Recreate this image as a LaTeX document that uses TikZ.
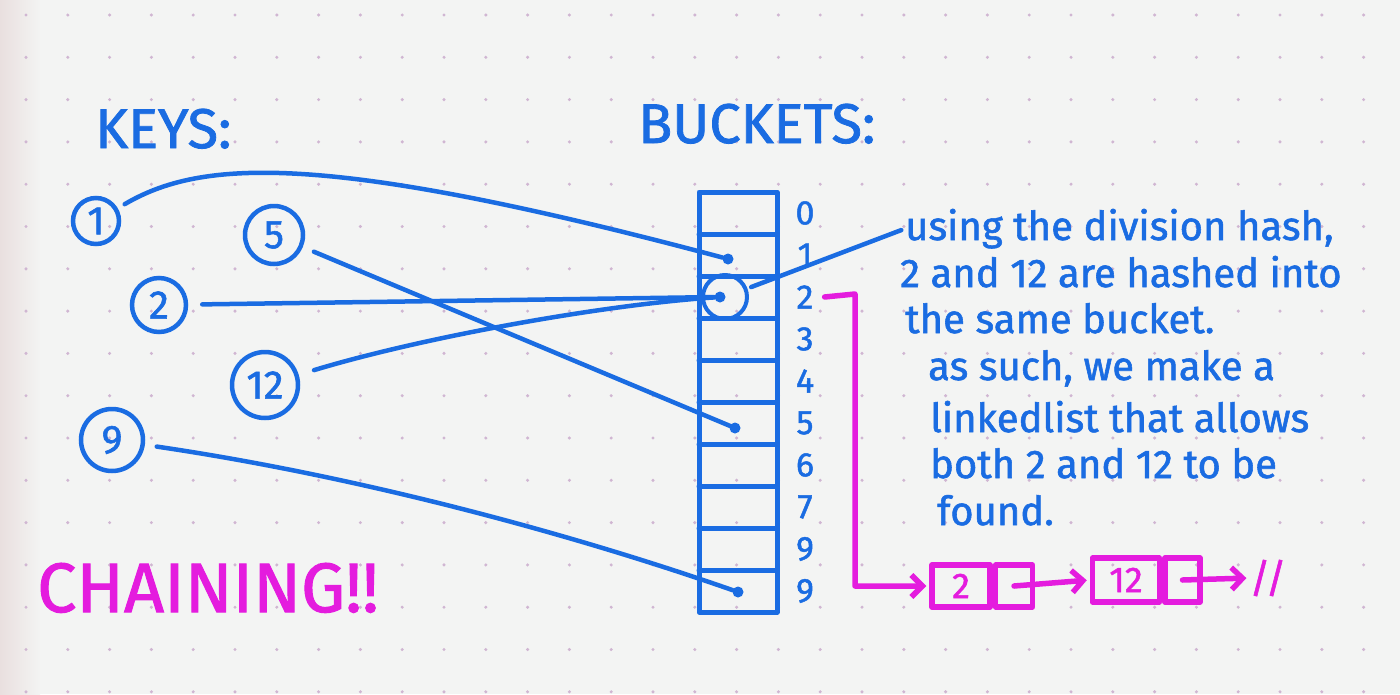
\documentclass[tikz,border=0pt]{standalone}
\usepackage{fontspec}
\setmainfont[FakeBold=1.4]{Fira Sans}
\usetikzlibrary{positioning,arrows.meta}

\definecolor{penblue}{RGB}{26,108,226}
\definecolor{penpink}{RGB}{228,28,222}
\definecolor{paper}{RGB}{243,244,243}
\definecolor{paperdot}{RGB}{208,182,210}
\definecolor{paperedge}{RGB}{233,223,223}

\tikzset{
  pen/.style={draw=penblue, line width=5pt, line cap=round, line join=round},
  link/.style={pen, line width=4.5pt},
  keyring/.style={circle, draw=penblue, line width=4.5pt, text=penblue, inner sep=0pt,
    font=\fontsize{40}{40}\selectfont},
  bdot/.style={circle, fill=penblue, inner sep=0pt, minimum size=11pt},
  idx/.style={text=penblue, inner sep=1pt, font=\fontsize{34}{34}\selectfont},
  notetext/.style={text=penblue, inner sep=0pt, anchor=base west,
    font=\fontsize{40}{40}\selectfont},
  headtext/.style={text=penblue, inner sep=0pt, anchor=base west,
    font=\fontsize{56}{56}\selectfont},
  inkline/.style={draw=penpink, line width=5.5pt, line cap=round, line join=round},
  inktip/.style={inkline, -{Straight Barb[length=11pt,width=22pt]}, shorten >=3pt},
  valbox/.style={inkline, text=penpink, minimum height=42pt, inner sep=0pt,
    font=\fontsize{36}{36}\selectfont},
}

\begin{document}
\begin{tikzpicture}[x=1pt, y=-1pt]
  \useasboundingbox (0,0) rectangle (1400,694);
  \fill[paper] (0,0) rectangle (1400,694);
  \shade[left color=paperedge, right color=paper] (0,0) rectangle (40,694);
  % dotted paper
  \foreach \i in {0,...,33}
    \foreach \j in {0,...,16}
      \fill[paperdot] (26+41.8*\i, 15+42.3*\j) circle [radius=1.7];

  % headings
  \node[headtext] (keys) at (95,148) {KEYS:};
  \node[headtext] (buckets) at (638,143) {BUCKETS:};
  \node[headtext, text=penpink, font=\fontsize{70}{70}\selectfont]
    (chaining) at (37,612) {CHAINING!!};

  % keys
  \node[keyring, minimum size=46pt] (k1) at (96,221) {1};
  \node[keyring, minimum size=58pt] (k5) at (274,235) {5};
  \node[keyring, minimum size=54pt] (k2) at (159,305) {2};
  \node[keyring, minimum size=66pt] (k12) at (265,385) {12};
  \node[keyring, minimum size=62pt] (k9) at (112,440) {9};

  % bucket column
  \draw[pen] (699,192) rectangle (777,612);
  \foreach \k in {1,...,9}
    \draw[pen] (699,192+42*\k) -- (777,192+42*\k);
  \foreach \k/\t in {0/0,1/1,2/2,3/3,4/4,5/5,6/6,7/7,8/9,9/9}
    \node[idx] (i\k) at (805,213+42*\k) {\t};

  \node[bdot] (b1) at (728,259) {};
  \node[bdot] (b2) at (720,297) {};
  \node[circle, pen, line width=4pt, minimum size=44pt, inner sep=0pt] (b2ring) at (725,297) {};
  \node[bdot] (b5) at (735,428) {};
  \node[bdot] (b9) at (738,592) {};

  % hashing
  \draw[link, shorten <=8pt] (k1) .. controls (200,160) and (320,150) .. (b1);
  \draw[link, shorten <=12pt] (k5) -- (b5);
  \draw[link, shorten <=14pt] (k2) -- (b2);
  \draw[link, shorten <=16pt] (k12) .. controls (420,338) and (600,305) .. (b2);
  \draw[link, shorten <=12pt] (k9) .. controls (350,475) and (560,530) .. (b9);

  % note
  \node[notetext] (note1) at (905,240) {using the division hash,};
  \node[notetext] (note2) at (900,287) {2 and 12 are hashed into};
  \node[notetext] (note3) at (905,333) {the same bucket.};
  \node[notetext] (note4) at (928,380) {as such, we make a};
  \node[notetext] (note5) at (930,432) {linkedlist that allows};
  \node[notetext] (note6) at (930,478) {both 2 and 12 to be};
  \node[notetext] (note7) at (937,525) {found.};
  \draw[link, shorten <=4pt, shorten >=4pt] (b2ring) -- (note1.west);

  % linked list
  \node[valbox, minimum width=58pt] (n2) at (961,586) {2};
  \node[valbox, minimum width=37pt, right=0pt of n2] (p2) {};
  \node[valbox, minimum width=67pt, minimum height=44pt] (n12) at (1126,580) {12};
  \node[valbox, minimum width=35pt, minimum height=44pt, right=0pt of n12] (p12) {};
  \node[text=penpink, inner sep=0pt, font=\fontsize{40}{40}\selectfont]
    (nil) at (1268,578) {//};

  \coordinate (elbow) at (855,294);
  \draw[inktip] ([xshift=10pt]i2.east) -- (elbow) |- (n2.west);
  \draw[inktip] (p2.center) -- (n12.west);
  \draw[inktip] (p12.center) -- (nil.west);
\end{tikzpicture}
\end{document}
